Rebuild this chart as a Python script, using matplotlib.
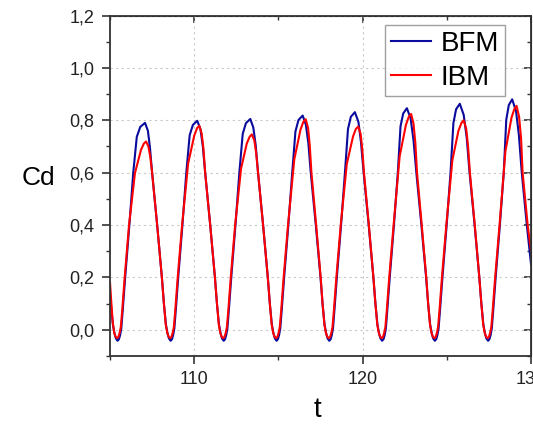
import matplotlib
matplotlib.use("Agg")
import matplotlib.pyplot as plt
from matplotlib.ticker import MultipleLocator, FuncFormatter

plt.rcParams["font.family"] = ["Liberation Sans", "DejaVu Sans"]

# =========================
# DADOS
# =========================
t_bfm = [
    105.00, 105.05, 105.17, 105.27, 105.35, 105.45,
    105.53, 105.60, 105.67, 105.75, 105.90, 106.15, 106.38, 106.59, 106.80, 107.08,
    107.25, 107.37, 107.50, 107.80, 108.08, 108.20, 108.32, 108.42, 108.50, 108.60,
    108.68, 108.75, 108.82, 108.90, 109.05, 109.30, 109.53, 109.73, 109.92, 110.18,
    110.37, 110.51, 110.65, 110.95, 111.23, 111.35, 111.47, 111.57, 111.65, 111.75,
    111.83, 111.90, 111.97, 112.05, 112.20, 112.45, 112.68, 112.88, 113.07, 113.33,
    113.51, 113.65, 113.79, 114.09, 114.37, 114.49, 114.61, 114.71, 114.79, 114.89,
    114.97, 115.04, 115.11, 115.19, 115.34, 115.59, 115.82, 116.01, 116.19, 116.44,
    116.63, 116.78, 116.92, 117.22, 117.50, 117.62, 117.74, 117.84, 117.92, 118.02,
    118.10, 118.17, 118.24, 118.32, 118.47, 118.72, 118.95, 119.13, 119.30, 119.54,
    119.75, 119.90, 120.06, 120.36, 120.64, 120.76, 120.88, 120.98, 121.06, 121.16,
    121.24, 121.31, 121.38, 121.46, 121.61, 121.86, 122.09, 122.25, 122.41, 122.63,
    122.85, 123.02, 123.19, 123.49, 123.77, 123.89, 124.01, 124.11, 124.19, 124.29,
    124.37, 124.44, 124.51, 124.59, 124.74, 124.99, 125.22, 125.39, 125.55, 125.77,
    126.00, 126.18, 126.35, 126.65, 126.93, 127.05, 127.17, 127.27, 127.35, 127.45,
    127.53, 127.60, 127.67, 127.75, 127.90, 128.15, 128.38, 128.53, 128.68, 128.88,
    129.11, 129.28, 129.45, 129.75, 130.00,
]
cd_bfm = [
    0.140, 0.100, 0.020, -0.015, -0.033, -0.042,
    -0.036, -0.020, 0.005, 0.070, 0.200, 0.400, 0.600, 0.737, 0.775, 0.790,
    0.760, 0.697, 0.600, 0.400, 0.200, 0.100, 0.020, -0.015, -0.033, -0.042,
    -0.036, -0.020, 0.005, 0.070, 0.200, 0.400, 0.600, 0.743, 0.782, 0.798,
    0.766, 0.701, 0.600, 0.400, 0.200, 0.100, 0.020, -0.015, -0.033, -0.042,
    -0.036, -0.020, 0.005, 0.070, 0.200, 0.400, 0.600, 0.748, 0.789, 0.805,
    0.772, 0.705, 0.600, 0.400, 0.200, 0.100, 0.020, -0.015, -0.033, -0.042,
    -0.036, -0.020, 0.005, 0.070, 0.200, 0.400, 0.600, 0.757, 0.801, 0.818,
    0.783, 0.711, 0.600, 0.400, 0.200, 0.100, 0.020, -0.015, -0.033, -0.042,
    -0.036, -0.020, 0.005, 0.070, 0.200, 0.400, 0.600, 0.766, 0.813, 0.831,
    0.794, 0.718, 0.600, 0.400, 0.200, 0.100, 0.020, -0.015, -0.033, -0.042,
    -0.036, -0.020, 0.005, 0.070, 0.200, 0.400, 0.600, 0.777, 0.826, 0.846,
    0.807, 0.725, 0.600, 0.400, 0.200, 0.100, 0.020, -0.015, -0.033, -0.042,
    -0.036, -0.020, 0.005, 0.070, 0.200, 0.400, 0.600, 0.789, 0.842, 0.863,
    0.821, 0.734, 0.600, 0.400, 0.200, 0.100, 0.020, -0.015, -0.033, -0.042,
    -0.036, -0.020, 0.005, 0.070, 0.200, 0.400, 0.600, 0.802, 0.858, 0.880,
    0.835, 0.743, 0.600, 0.400, 0.250,
]

t_ibm = [
    105.00, 105.06, 105.16, 105.25, 105.33, 105.42,
    105.50, 105.57, 105.64, 105.72, 105.87, 106.13, 106.48, 106.84, 107.01, 107.14,
    107.28, 107.39, 107.50, 107.80, 108.08, 108.20, 108.31, 108.40, 108.48, 108.57,
    108.65, 108.72, 108.79, 108.87, 109.02, 109.28, 109.64, 110.00, 110.17, 110.30,
    110.44, 110.55, 110.65, 110.95, 111.23, 111.35, 111.46, 111.55, 111.63, 111.72,
    111.80, 111.87, 111.94, 112.02, 112.17, 112.43, 112.78, 113.12, 113.29, 113.42,
    113.57, 113.68, 113.79, 114.09, 114.37, 114.49, 114.60, 114.69, 114.77, 114.86,
    114.94, 115.01, 115.08, 115.16, 115.31, 115.57, 115.94, 116.31, 116.48, 116.62,
    116.76, 116.86, 116.96, 117.24, 117.51, 117.62, 117.73, 117.82, 117.90, 117.99,
    118.07, 118.14, 118.21, 118.29, 118.44, 118.70, 119.06, 119.43, 119.60, 119.74,
    119.88, 119.98, 120.08, 120.37, 120.64, 120.76, 120.87, 120.96, 121.04, 121.13,
    121.21, 121.28, 121.35, 121.43, 121.58, 121.84, 122.20, 122.57, 122.74, 122.88,
    123.02, 123.13, 123.23, 123.51, 123.78, 123.89, 124.00, 124.09, 124.17, 124.26,
    124.34, 124.41, 124.48, 124.56, 124.71, 124.97, 125.33, 125.69, 125.87, 126.00,
    126.15, 126.26, 126.37, 126.66, 126.93, 127.05, 127.16, 127.25, 127.33, 127.42,
    127.50, 127.57, 127.64, 127.72, 127.87, 128.13, 128.48, 128.84, 129.01, 129.14,
    129.29, 129.41, 129.50, 129.80, 130.00,
]
cd_ibm = [
    0.180, 0.120, 0.030, -0.012, -0.026, -0.032,
    -0.027, -0.012, 0.010, 0.070, 0.200, 0.400, 0.598, 0.687, 0.711, 0.719,
    0.700, 0.661, 0.600, 0.400, 0.200, 0.100, 0.020, -0.012, -0.026, -0.032,
    -0.027, -0.012, 0.010, 0.070, 0.200, 0.400, 0.635, 0.741, 0.770, 0.779,
    0.750, 0.691, 0.600, 0.400, 0.200, 0.100, 0.020, -0.012, -0.026, -0.032,
    -0.027, -0.012, 0.010, 0.070, 0.200, 0.400, 0.615, 0.711, 0.737, 0.746,
    0.723, 0.674, 0.600, 0.400, 0.200, 0.100, 0.020, -0.012, -0.026, -0.032,
    -0.027, -0.012, 0.010, 0.070, 0.200, 0.400, 0.650, 0.764, 0.794, 0.804,
    0.771, 0.704, 0.600, 0.400, 0.200, 0.100, 0.020, -0.012, -0.026, -0.032,
    -0.027, -0.012, 0.010, 0.070, 0.200, 0.400, 0.633, 0.738, 0.767, 0.776,
    0.748, 0.690, 0.600, 0.400, 0.200, 0.100, 0.020, -0.012, -0.026, -0.032,
    -0.027, -0.012, 0.010, 0.070, 0.200, 0.400, 0.663, 0.782, 0.813, 0.824,
    0.788, 0.714, 0.600, 0.400, 0.200, 0.100, 0.020, -0.012, -0.026, -0.032,
    -0.027, -0.012, 0.010, 0.070, 0.200, 0.400, 0.648, 0.760, 0.790, 0.800,
    0.768, 0.702, 0.600, 0.400, 0.200, 0.100, 0.020, -0.012, -0.026, -0.032,
    -0.027, -0.012, 0.010, 0.070, 0.200, 0.400, 0.682, 0.810, 0.843, 0.855,
    0.814, 0.730, 0.600, 0.400, 0.300,
]

x_ticks = [110, 120, 130]
y_ticks = [0.0, 0.2, 0.4, 0.6, 0.8, 1.0, 1.2]


def virgula(v, pos):
    return f"{v:.1f}".replace(".", ",")


# =========================
# GRAFICO
# =========================
fig = plt.figure(figsize=(5.33, 4.25), dpi=100)
ax = fig.add_axes([0.2064, 0.1624, 0.7899, 0.8011])

ax.plot(t_bfm, cd_bfm, color="#0a0a9c", lw=1.5, label="BFM")
ax.plot(t_ibm, cd_ibm, color="#ff0000", lw=1.5, label="IBM")

ax.set_xlim(105, 130)
ax.set_ylim(-0.1, 1.2)

ax.set_xticks(x_ticks)
ax.set_yticks(y_ticks)
ax.xaxis.set_minor_locator(MultipleLocator(5))
ax.yaxis.set_minor_locator(MultipleLocator(0.1))
ax.yaxis.set_major_formatter(FuncFormatter(virgula))

ax.grid(which="major", color="#c8c8c8", linestyle=(0, (2, 3)), lw=0.8)

for s in ax.spines.values():
    s.set_color("#333333")
    s.set_linewidth(1.3)

ax.tick_params(which="major", direction="out", length=6, width=1.2,
               color="#333333", labelsize=13, labelcolor="#222222", pad=5)
ax.tick_params(which="minor", direction="out", length=3, width=1.0,
               color="#333333")

# ticks espelhados para dentro (topo e direita)
top = ax.secondary_xaxis("top")
top.set_xticks(x_ticks)
top.xaxis.set_minor_locator(MultipleLocator(5))
top.tick_params(which="major", direction="in", length=5, width=1.2,
                color="#333333", labeltop=False)
top.tick_params(which="minor", direction="in", length=3, width=1.0,
                color="#333333")

right = ax.secondary_yaxis("right")
right.set_yticks(y_ticks)
right.yaxis.set_minor_locator(MultipleLocator(0.1))
right.tick_params(which="major", direction="in", length=5, width=1.2,
                  color="#333333", labelright=False)
right.tick_params(which="minor", direction="in", length=3, width=1.0,
                  color="#333333")

ax.set_xlabel("t", fontsize=20, va="center", ha="center")
ax.xaxis.set_label_coords(0.492, -0.16)
ax.set_ylabel("Cd", fontsize=19, rotation=0, va="center", ha="center")
ax.yaxis.set_label_coords(-0.169, 0.523)

leg = ax.legend(loc="upper right", bbox_to_anchor=(0.938, 0.972),
                borderaxespad=0, fontsize=20, frameon=True, fancybox=False,
                handlelength=1.45, handletextpad=0.35, borderpad=0.2,
                labelspacing=0.3)
leg.get_frame().set_edgecolor("#888888")
leg.get_frame().set_linewidth(1.0)

fig.savefig("out.png", dpi=100)
